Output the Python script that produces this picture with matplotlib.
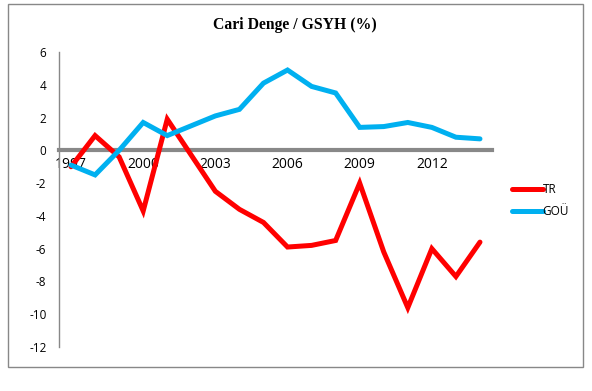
import matplotlib
matplotlib.use("Agg")
import matplotlib.pyplot as plt
from matplotlib.patches import Rectangle

years = list(range(1997, 2015))
tr = [-1.0, 0.9, -0.4, -3.7, 1.9, -0.3, -2.5, -3.6, -4.4, -5.9, -5.8, -5.5, -2.0, -6.2, -9.6, -6.0, -7.7, -5.6]
gou = [-0.9, -1.5, 0.0, 1.7, 0.9, 1.5, 2.1, 2.5, 4.1, 4.9, 3.9, 3.5, 1.4, 1.45, 1.7, 1.4, 0.8, 0.7]
yticks = [-12, -10, -8, -6, -4, -2, 0, 2, 4, 6]
xtick_years = [1997, 2000, 2003, 2006, 2009, 2012]

plt.rcParams['font.family'] = ['Open Sans', 'DejaVu Sans']

fig = plt.figure(figsize=(5.92, 3.91), dpi=100)
ax = fig.add_axes([59/592, 1-347/391, (492-59)/592, (347-52)/391])

x = list(range(len(years)))
ax.plot(x, tr, color='#FF0000', lw=3.6, label='TR', solid_joinstyle='miter',
        solid_capstyle='round', zorder=3)
ax.plot(x, gou, color='#00B0F0', lw=3.6, label='GOÜ', solid_joinstyle='miter',
        solid_capstyle='round', zorder=3)

ax.set_xlim(-0.5, len(years)-0.5)
ax.set_ylim(-12, 6)
ax.set_yticks(yticks)
ax.set_yticklabels([str(v) for v in yticks], fontsize=8.5)
ax.set_xticks([years.index(y) for y in xtick_years])
ax.set_xticklabels([str(y) for y in xtick_years], fontsize=8.5)
ax.tick_params(axis='y', length=0, pad=9)
ax.tick_params(axis='x', length=0, pad=4.5)

for s in ['top', 'right']:
    ax.spines[s].set_visible(False)
ax.spines['left'].set_color('#888888')
ax.spines['left'].set_linewidth(1)
ax.spines['bottom'].set_position(('data', 0))
ax.spines['bottom'].set_color('#888888')
ax.spines['bottom'].set_linewidth(3)
ax.spines['bottom'].set_zorder(2)

leg = ax.legend(loc='upper left', bbox_to_anchor=(512/592, 1-183/391), bbox_transform=fig.transFigure,
                frameon=False, fontsize=8.5, handlelength=2.6, handletextpad=0.0,
                labelspacing=0.75, borderpad=0, borderaxespad=0)

fig.text(295/592, 1-25/391, 'Cari Denge / GSYH (%)', ha='center', va='center',
         fontsize=11.3, fontweight='bold', family=['Liberation Serif'])

fig.patches.append(Rectangle((8/592, 1-367/391), (583-8)/592, (367-4)/391,
                             transform=fig.transFigure, fill=False, edgecolor='#888888', lw=1))

fig.savefig('out.png', dpi=100)
